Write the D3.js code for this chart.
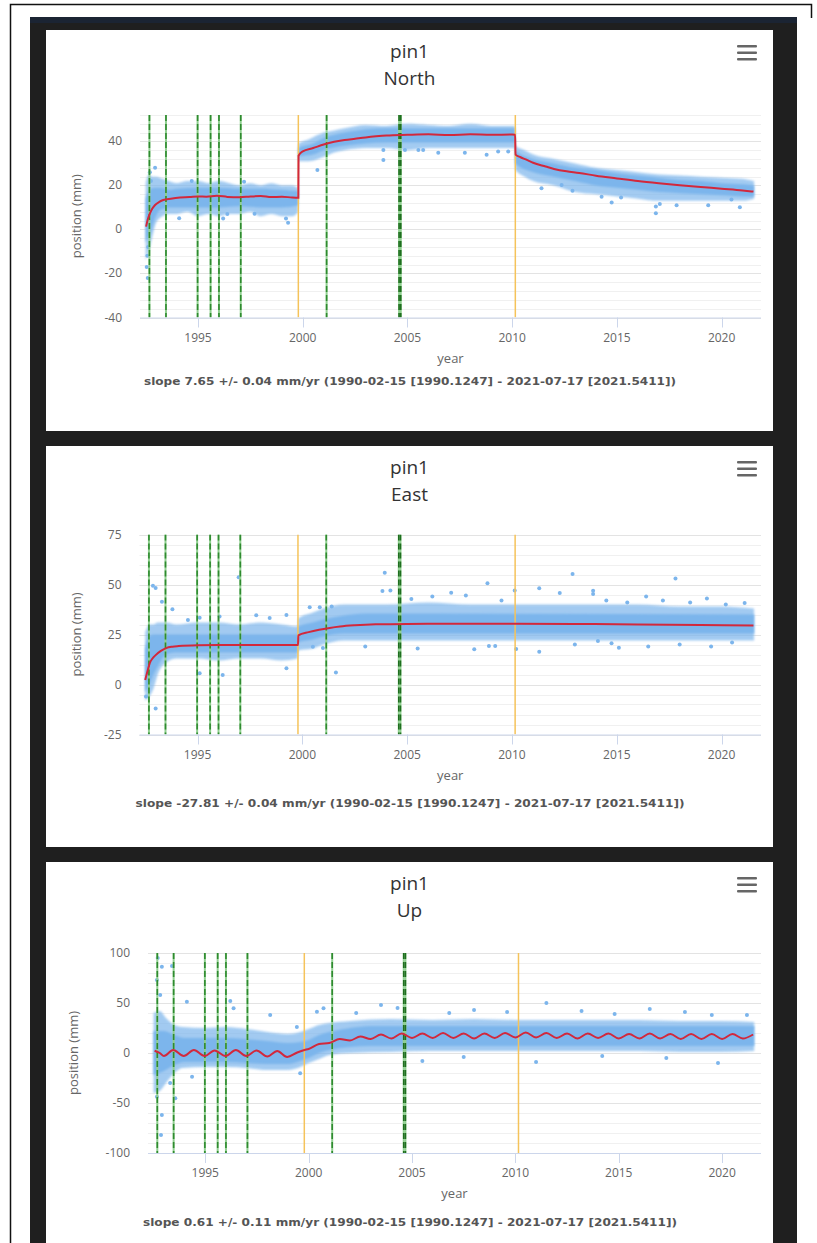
<!DOCTYPE html>
<html>
<head>
<meta charset="utf-8">
<script src="https://cdn.jsdelivr.net/npm/d3@7"></script>
<style>
body{margin:0;background:#fff;}
svg{display:block;}
</style>
</head>
<body>
<svg id="chart" width="817" height="1243"></svg>
<script>

// ---- data ----

var xTicks = [1995, 2000, 2005, 2010, 2015, 2020];

// vertical event lines
var greenBreaks = [1992.68, 1993.47, 1994.98, 1995.6, 1996.0, 1997.04, 2001.14];
var strongBreaks = [2004.6, 2004.68];
var offsetYears = [1999.79, 2010.15];

// North
var northTicks = [-40, -20, 0, 20, 40];
var northModel = [[1992.52,1.3],[1992.6,4.5],[1992.71,7.4],[1992.82,9.5],[1992.95,11.1],[1993.15,12.5],[1993.34,13.4],[1993.7,14],[1994.14,14.5],[1994.6,14.7],[1995,15],[1995.4,14.9],[1995.9,15.3],[1996.4,14.8],[1997,14.6],[1997.5,15],[1998,15.2],[1998.5,14.7],[1999,14.9],[1999.5,14.5],[1999.79,14.4],[1999.8,33.5],[2000,35.5],[2000.5,37],[2001,38.6],[2001.5,39.8],[2002,40.6],[2002.5,41.2],[2003,41.8],[2003.5,42.3],[2004,42.7],[2005,43],[2006,43.2],[2007,42.9],[2008,43.2],[2009,43],[2010,43.1],[2010.14,43],[2010.16,34],[2010.4,32.8],[2010.7,31.6],[2011,30.3],[2011.6,28.6],[2012,27.5],[2012.6,26.4],[2013.2,25.7],[2014,24.4],[2015,23.2],[2016,22],[2017,21],[2018,20.1],[2019,19.3],[2020,18.5],[2021,17.7],[2021.52,17.2]];
var northOuter = [[1992.5,-14,21],[1992.65,-10,25],[1992.8,-4,24],[1993.0,3,24],[1993.3,6,23],[1993.6,7,22],[1994.0,7,21],[1994.5,8,22],[1995.0,6,22],[1995.5,7,21],[1996.0,6,22],[1996.5,7,21],[1997.0,7,20],[1997.5,8,21],[1998.0,6,20],[1998.5,7,21],[1999.0,6,20],[1999.5,6,20],[1999.78,8,19],[1999.8,31,39],[2000.3,31,41],[2001.0,33,44],[2001.5,35,45],[2002.0,36,46],[2003.0,37,47.5],[2004.0,37,47],[2005.0,36,48],[2006.0,37,47.5],[2007.0,37,47],[2008.0,37,48],[2009.0,37,47],[2010.13,37,47],[2010.16,27,38],[2010.6,24,36],[2011,22,34],[2012,20,32],[2013,17,30],[2014,16,28],[2015,15,27],[2016,14,26],[2017,13,25],[2018,13,24.5],[2019,13,24],[2020,13,23.5],[2021,13,23],[2021.55,14,22]];
var northInner = [[1992.5,-6,14],[1992.7,-2,18],[1992.9,4,19],[1993.2,9,19],[1993.6,10,18],[1994,10,18.5],[1995,10,19],[1996,10,19],[1997,10.5,18.5],[1998,10,18.5],[1999,10,18],[1999.78,11,17.5],[1999.8,33,37],[2000.5,34,39],[2001,36,41.5],[2002,38,44],[2003,39,45.5],[2004,39.5,46],[2010.13,39.5,46],[2010.16,30,36],[2011,26,32],[2012,24,30],[2013,22,28],[2014,20,27],[2015,19,25.5],[2016,18,24.5],[2017,17,23.5],[2018,16.5,22.5],[2019,16,22],[2020,15.5,21],[2021,15,20.5],[2021.55,15,20]];
var northOutliers = [[1992.6,-22],[1992.55,-17],[1992.7,26],[1992.95,28],[1994.7,22],[1996.2,5],[1996.4,7],[1997.2,21.7],[1999.3,3],[1999.2,5],[1997.7,7.1],[2000.7,27],[1994.1,5.1],[2003.85,36.1],[2003.85,31.6],[2004.88,36.1],[2005.52,36.1],[2005.75,36.1],[2006.47,34.8],[2007.74,34.8],[2008.78,33.9],[2009.33,35.4],[2009.81,35.4],[2011.4,18.7],[2012.36,20.2],[2012.88,17.6],[2014.75,12.2],[2015.2,14.5],[2016.86,10.4],[2016.86,7.4],[2017.05,11.6],[2017.85,11],[2019.36,11],[2020.87,10.1],[2020.47,13.6],[2014.27,14.9],[1992.58,-12],[1992.62,-8],[1992.75,22]];
var northSlope = "slope 7.65 +/- 0.04 mm/yr (1990-02-15 [1990.1247] - 2021-07-17 [2021.5411])";

// East
var eastTicks = [-25, 0, 25, 50, 75];
var eastModel = [[1992.5,2.2],[1992.62,7],[1992.72,10.7],[1992.85,13],[1993.0,14.7],[1993.25,16.8],[1993.5,18.2],[1993.8,18.9],[1994.1,19.2],[1995,19.6],[1996,19.7],[1997,19.7],[1998,19.7],[1999,19.7],[1999.79,19.7],[1999.81,24.6],[2000.3,26.2],[2000.8,27.4],[2001.3,28.3],[2001.8,29.0],[2002.5,29.6],[2003.5,30.1],[2005,30.3],[2010,30.4],[2013,30.3],[2016,30.0],[2019,29.7],[2021.52,29.5]];
var eastOuter = [[1992.5,-8,26],[1992.7,-6,30],[1992.9,-2,30],[1993.1,5,31],[1993.5,11,31],[1994,13,30],[1995,13,31],[1996,12,31],[1997,13,30],[1998,13,31],[1999,12,30],[1999.78,13,29],[1999.8,17,33],[2000.5,18,36],[2001,20,38],[2002,22,40],[2004,22,40],[2006,22,41],[2008,22,40],[2010,22,40],[2012,22,40],[2014,22,40],[2016,22,40],[2018,22,39],[2020,22,39],[2021.55,22,38]];
var eastInner = [[1992.5,-4,18],[1992.7,0,24],[1992.9,5,25],[1993.1,9,25],[1993.5,15,25],[1994,16,25],[1999.78,16,25],[1999.8,21,29],[2000.5,22.5,31],[2001,24,32.5],[2002,25.5,34.5],[2003,25.5,35.5],[2021.55,25.5,35]];
var eastOutliers = [[1992.87,49.4],[1993.0,48.3],[1993.3,41.4],[1993.8,37.6],[1994.54,32.2],[1995.1,33.4],[1996.05,34],[1996.96,53.6],[1997.8,34.6],[1998.44,33.2],[1999.24,34.7],[1995.1,5.6],[1996.2,4.8],[1999.24,8.1],[1993.0,-12],[1992.54,-6],[2000.35,38.6],[2000.83,38.6],[2000.5,18.9],[2000.98,18.2],[2003.93,55.9],[2003.82,46.8],[2008.83,50.6],[2012.89,55.2],[2013.87,46.9],[2013.87,45.2],[2011.3,48.1],[2007.1,45.9],[2005.2,42.8],[2007.8,44.5],[2010.13,47],[2012.28,45.7],[2008.2,17.6],[2008.9,19.2],[2009.2,19.2],[2011.3,16.4],[2010.2,17.7],[2014.1,21.7],[2015.1,18.4],[2014.75,20.6],[2017.8,53],[2021.1,40.7],[2001.6,6],[2001.4,39],[2004.2,47],[2006.2,44],[2009.5,42],[2014.5,42],[2015.5,41],[2016.4,44],[2017.2,42],[2018.5,41],[2019.3,43],[2020.2,40],[2003.0,19],[2005.5,18],[2013.0,20],[2016.5,19],[2018.0,20],[2019.5,19],[2020.5,21]];
var eastSlope = "slope -27.81 +/- 0.04 mm/yr (1990-02-15 [1990.1247] - 2021-07-17 [2021.5411])";

// Up
var upTicks = [-100, -50, 0, 50, 100];
var upModel = [[1992.55,2.3],[1992.8,0],[1993.0,-3],[1993.45,3],[1993.96,-3],[1994.45,3],[1994.97,-3],[1995.45,2.5],[1995.98,-3],[1996.48,3],[1996.98,-3],[1997.48,2.5],[1998.0,-3.5],[1998.48,2],[1998.96,-4],[1999.45,0.5],[1999.8,3],[2000.0,4],[2000.5,9],[2001.0,10],[2001.5,14],[2002.0,12.5],[2002.5,16.5],[2003.0,14],[2003.5,18.5],[2004.0,14.5],[2004.5,19.5],[2005.0,15],[2005.5,19.5],[2006.0,15],[2006.5,20],[2007.0,15],[2007.5,19.5],[2008.0,14.5],[2008.5,19.5],[2009.0,15],[2009.5,20],[2010.0,15.5],[2010.5,20.5],[2011.0,15.5],[2011.5,20],[2012.0,15],[2012.5,19.5],[2013.0,14.5],[2013.5,19.5],[2014.0,15],[2014.5,19.5],[2015.0,14.5],[2015.5,19],[2016.0,14.5],[2016.5,19.5],[2017.0,14.5],[2017.5,19],[2018.0,14],[2018.5,19],[2019.0,14],[2019.5,19],[2020.0,14],[2020.5,19],[2021.0,14.5],[2021.5,18.5]];
var upOuter = [[1992.5,-40,40],[1992.8,-38,42],[1993.1,-30,35],[1993.5,-20,28],[1993.9,-15,26],[1995,-14,25],[1996,-14,26],[1997,-15,24],[1998,-17,21],[1999,-17,19],[1999.6,-14,21],[2000,-10,24],[2000.5,-6,28],[2001,-2,30],[2002,0,32],[2004,1,34],[2006,2,33],[2008,2,34],[2010,2,33],[2012,2,33],[2014,2,33],[2016,2,33],[2018,1,32],[2020,1,32],[2021.55,2,31]];
var upInner = [[1992.5,-22,22],[1993,-18,22],[1993.5,-12,18],[1994,-9,15],[1996,-9,15],[1998,-11,12],[1999,-11,10],[1999.6,-8,11],[2000,-5,13],[2000.5,0,18],[2001,3,21],[2002,6,25],[2003,7,27],[2021.55,7,27]];
var upOutliers = [[1992.9,86.3],[1993.39,87],[1992.66,73],[1992.82,58],[1992.7,95],[1994.11,51.3],[1996.21,52],[1996.37,44.7],[1998.14,38],[1994.36,-23.7],[1999.59,-20.3],[1993.55,-45.3],[1992.9,-62],[1992.86,-82],[1992.66,-43.7],[1993.3,-30],[2000.4,41.3],[2000.72,44.7],[1999.43,26],[2003.5,48],[2004.3,45],[2008,43],[2011.5,50],[2016.5,44],[2019.5,38],[2005.5,-8],[2011,-9],[2019.8,-10],[2002.3,40],[2006.8,40],[2009.6,41],[2013.2,42],[2014.8,39],[2018.2,41],[2021.2,38],[2007.5,-4],[2014.2,-3],[2017.3,-5]];
var upSlope = "slope 0.61 +/- 0.11 mm/yr (1990-02-15 [1990.1247] - 2021-07-17 [2021.5411])";

// ---- layout ----

var W = 817, H = 1243;
var xDomain = [1992.23, 2021.88];
var dotColor = "#7cb5ec", modelColor = "#d2283c";
var labelFont = "'Open Sans', 'DejaVu Sans', sans-serif";

var panels = [
    {top:30, title:"North", left:140, plotTop:115, plotBottom:317.5, yDomain:[-40,52], yTicks:northTicks, minor:4,
     model:northModel, outer:northOuter, inner:northInner, dots:northOutliers, slope:northSlope, slopeW:532, slopeY:385, yTitleX:77},
    {top:446, title:"East", left:139.5, plotTop:534.5, plotBottom:734.5, yDomain:[-25,75], yTicks:eastTicks, minor:5,
     model:eastModel, outer:eastOuter, inner:eastInner, dots:eastOutliers, slope:eastSlope, slopeW:549, slopeY:807, yTitleX:77},
    {top:862, title:"Up", left:148, plotTop:953, plotBottom:1153, yDomain:[-100,100], yTicks:upTicks, minor:10,
     model:upModel, outer:upOuter, inner:upInner, dots:upOutliers, slope:upSlope, slopeW:534, slopeY:1226, yTitleX:74}
];

var svg = d3.select("#chart");

// soft edge for the sparse rim of the point cloud
svg.append("defs").append("filter")
    .attr("id", "soft")
    .attr("x", "-5%").attr("y", "-20%").attr("width", "110%").attr("height", "140%")
    .append("feGaussianBlur").attr("stdDeviation", 1);

// page frame + dark backdrop
svg.append("rect").attr("width", W).attr("height", H).attr("fill", "#fff");
svg.append("path")
    .attr("d", "M10.5,1243 V4.5 H811.5 V18")
    .attr("fill", "none").attr("stroke", "#111").attr("stroke-width", 1.5);
svg.append("rect").attr("x", 30).attr("y", 17).attr("width", 767).attr("height", H - 17).attr("fill", "#1f1f1f");
svg.append("rect").attr("x", 30).attr("y", 17).attr("width", 767).attr("height", 6).attr("fill", "#1b2433");

function drawPanel(p, i){

    var g = svg.append("g");
    var plotRight = 761;

    // card
    g.append("rect")
        .attr("x", 46).attr("y", p.top)
        .attr("width", 727).attr("height", 401)
        .attr("fill", "#fff");

    var x = d3.scaleLinear().domain(xDomain).range([p.left, plotRight]);
    var y = d3.scaleLinear().domain(p.yDomain).range([p.plotBottom, p.plotTop]);

    var clipId = "clip" + i;
    g.append("clipPath").attr("id", clipId)
        .append("rect")
        .attr("x", p.left).attr("y", p.plotTop)
        .attr("width", plotRight - p.left).attr("height", p.plotBottom - p.plotTop);

// Grid

    var minorVals = d3.range(p.yDomain[0], p.yDomain[1] + 0.001, p.minor);
    g.append("g").selectAll("line")
        .data(minorVals)
        .enter().append("line")
        .attr("x1", p.left).attr("x2", plotRight)
        .attr("y1", function(d){ return Math.round(y(d)) + 0.5; })
        .attr("y2", function(d){ return Math.round(y(d)) + 0.5; })
        .attr("stroke", "#f0f0f0");

    g.append("g").selectAll("line")
        .data(p.yTicks)
        .enter().append("line")
        .attr("x1", p.left).attr("x2", plotRight)
        .attr("y1", function(d){ return Math.round(y(d)) + 0.5; })
        .attr("y2", function(d){ return Math.round(y(d)) + 0.5; })
        .attr("stroke", "#e3e3e3");

// Scatter cloud

    var plot = g.append("g").attr("clip-path", "url(#" + clipId + ")");

    var band = d3.area()
        .x(function(d){ return x(d[0]); })
        .y0(function(d){ return y(d[1]); })
        .y1(function(d){ return y(d[2]); })
        .curve(d3.curveMonotoneX);

    plot.append("path").datum(p.outer)
        .attr("d", band)
        .attr("fill", dotColor).attr("opacity", 0.7)
        .attr("filter", "url(#soft)");
    plot.append("path").datum(p.inner)
        .attr("d", band)
        .attr("fill", dotColor)
        .attr("filter", "url(#soft)");

    plot.selectAll("circle.dot")
        .data(p.dots)
        .enter().append("circle")
        .attr("class", "dot")
        .attr("cx", function(d){ return x(d[0]); })
        .attr("cy", function(d){ return y(d[1]); })
        .attr("r", 2)
        .attr("fill", dotColor);

// Event lines

    plot.selectAll("line.off")
        .data(offsetYears)
        .enter().append("line")
        .attr("class", "off")
        .attr("x1", function(d){ return x(d); }).attr("x2", function(d){ return x(d); })
        .attr("y1", p.plotTop).attr("y2", p.plotBottom)
        .attr("stroke", "#f5c35a").attr("stroke-width", 1.5);

    var greens = greenBreaks.concat(strongBreaks);
    plot.selectAll("line.gbase")
        .data(greens)
        .enter().append("line")
        .attr("class", "gbase")
        .attr("x1", function(d){ return x(d); }).attr("x2", function(d){ return x(d); })
        .attr("y1", p.plotTop).attr("y2", p.plotBottom)
        .attr("stroke", "#8fcf8f").attr("stroke-width", 2);
    plot.selectAll("line.gdash")
        .data(greens)
        .enter().append("line")
        .attr("class", "gdash")
        .attr("x1", function(d){ return x(d); }).attr("x2", function(d){ return x(d); })
        .attr("y1", p.plotTop).attr("y2", p.plotBottom)
        .attr("stroke", function(d){ return strongBreaks.indexOf(d) >= 0 ? "#1f6e1f" : "#2f8a2f"; })
        .attr("stroke-width", 1.6)
        .attr("stroke-dasharray", "6,3");

// Model

    var line = d3.line()
        .x(function(d){ return x(d[0]); })
        .y(function(d){ return y(d[1]); })
        .curve(d3.curveMonotoneX);
    plot.append("path").datum(p.model)
        .attr("d", line)
        .attr("fill", "none")
        .attr("stroke", modelColor)
        .attr("stroke-width", 2);

// Axes

    g.append("line")
        .attr("x1", p.left).attr("x2", plotRight)
        .attr("y1", p.plotBottom + 0.5).attr("y2", p.plotBottom + 0.5)
        .attr("stroke", "#ccd6eb");

    g.append("g").selectAll("line")
        .data(xTicks)
        .enter().append("line")
        .attr("x1", function(d){ return Math.round(x(d)) + 0.5; })
        .attr("x2", function(d){ return Math.round(x(d)) + 0.5; })
        .attr("y1", p.plotBottom).attr("y2", p.plotBottom + 10)
        .attr("stroke", "#ccd6eb");

    g.append("g").selectAll("text")
        .data(xTicks)
        .enter().append("text")
        .text(function(d){ return d; })
        .attr("x", function(d){ return x(d); })
        .attr("y", p.plotBottom + 24)
        .attr("text-anchor", "middle")
        .attr("font-family", labelFont)
        .attr("font-size", 12)
        .attr("fill", "#666");

    g.append("g").selectAll("text")
        .data(p.yTicks)
        .enter().append("text")
        .text(function(d){ return d; })
        .attr("x", p.left - 18)
        .attr("y", function(d){ return y(d) + 4; })
        .attr("text-anchor", "end")
        .attr("font-family", labelFont)
        .attr("font-size", 12)
        .attr("fill", "#666");

    var midY = (p.plotTop + p.plotBottom) / 2;
    g.append("text")
        .text("position (mm)")
        .attr("transform", "translate(" + (p.yTitleX + 4) + "," + midY + ") rotate(-90)")
        .attr("text-anchor", "middle")
        .attr("font-family", labelFont)
        .attr("font-size", 13)
        .attr("fill", "#666");

    g.append("text")
        .text("year")
        .attr("x", (p.left + plotRight) / 2)
        .attr("y", p.plotBottom + 45)
        .attr("text-anchor", "middle")
        .attr("font-family", labelFont)
        .attr("font-size", 13)
        .attr("fill", "#666");

// Titles

    g.append("text")
        .text("pin1")
        .attr("x", 409.5).attr("y", p.top + 28)
        .attr("text-anchor", "middle")
        .attr("font-family", labelFont)
        .attr("font-size", 19)
        .attr("fill", "#333");
    g.append("text")
        .text(p.title)
        .attr("x", 409.5).attr("y", p.top + 55)
        .attr("text-anchor", "middle")
        .attr("font-family", labelFont)
        .attr("font-size", 19)
        .attr("fill", "#333");

    g.append("text")
        .text(p.slope)
        .attr("x", 410).attr("y", p.slopeY)
        .attr("text-anchor", "middle")
        .attr("font-family", "'DejaVu Sans', sans-serif")
        .attr("font-size", 10)
        .attr("font-weight", "bold")
        .attr("textLength", p.slopeW)
        .attr("lengthAdjust", "spacingAndGlyphs")
        .attr("fill", "#555");

// Menu icon

    g.append("g").selectAll("rect")
        .data([0, 1, 2])
        .enter().append("rect")
        .attr("x", 737).attr("y", function(d){ return p.top + 15 + d * 6.5; })
        .attr("width", 20).attr("height", 2.6)
        .attr("rx", 1)
        .attr("fill", "#666");
}

panels.forEach(drawPanel);

</script>
</body>
</html>
